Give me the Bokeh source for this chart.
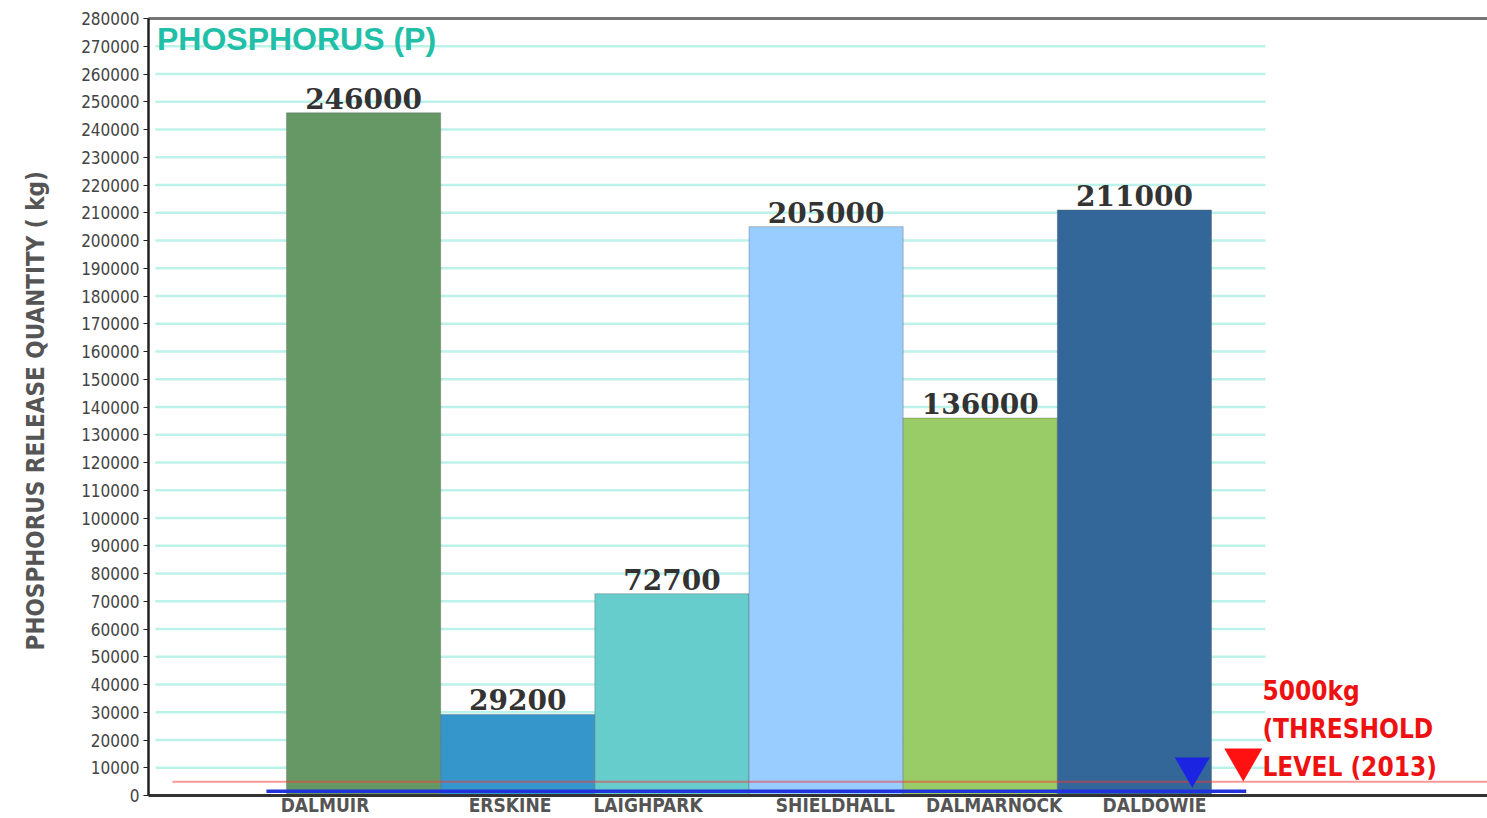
from bokeh.plotting import figure
from bokeh.models import FixedTicker, LinearAxis, Range1d, ColumnDataSource, NumeralTickFormatter
from bokeh.core.properties import value
from bokeh.embed import file_html
from bokeh.resources import INLINE

categories = ["DALMUIR", "ERSKINE", "LAIGHPARK", "SHIELDHALL", "DALMARNOCK", "DALDOWIE"]
releases = [246000, 29200, 72700, 205000, 136000, 211000]
bar_colors = ["#659865", "#3596cb", "#66cccc", "#99ccff", "#99cc66", "#336699"]
# horizontal shift of each category label relative to its bar centre (bar widths)
label_shift = [-0.25, -0.05, -0.155, 0.06, 0.09, 0.13]
y_ticks = list(range(0, 280001, 10000))
grid_values = list(range(10000, 270001, 10000))
threshold = 5000
threshold_lines = ["5000kg", "(THRESHOLD", "LEVEL (2013)"]

NARROW = "'DejaVu Sans Condensed', 'Liberation Sans Narrow', 'Arial Narrow', sans-serif"

xs = list(range(len(categories)))
label_x = [x + s for x, s in zip(xs, label_shift)]

p = figure(width=1487, height=818, output_backend="svg", toolbar_location=None,
           x_range=Range1d(-1.395, 7.29), y_range=Range1d(0, 280000),
           min_border_left=148, min_border_top=18, min_border_right=0, min_border_bottom=10)
p.outline_line_color = None
p.background_fill_color = "white"
p.xgrid.visible = False
p.ygrid.visible = False

# grid lines (partial width)
p.segment(x0=[-1.35] * len(grid_values), x1=[5.85] * len(grid_values),
          y0=grid_values, y1=grid_values, line_color="#bdf2ea", line_width=2.5)

src = ColumnDataSource(dict(x=xs, top=releases, color=bar_colors,
                            label=[str(v) for v in releases]))
p.vbar(x="x", top="top", bottom=0, width=1.0, fill_color="color",
       line_color="#555555", line_alpha=0.35, line_width=1, source=src)

p.text(x="x", y="top", text="label", source=src, text_align="center",
       text_baseline="bottom", y_offset=-4, text_font=value("DejaVu Serif"),
       text_font_style="bold", text_font_size="28px", text_color="#333333")

# threshold line and baseline
p.segment(x0=[-1.24], x1=[7.29], y0=[threshold], y1=[threshold],
          line_color="#ff3333", line_alpha=0.5, line_width=2)
p.segment(x0=[-0.63], x1=[5.725], y0=[1500], y1=[1500],
          line_color="#2233dd", line_width=3.5)

p.scatter(x=[5.375], y=[10090], marker="inverted_triangle", size=35,
          fill_color="#1b24e0", line_color=None)
p.scatter(x=[5.706], y=[12970], marker="inverted_triangle", size=38,
          fill_color="#ff1111", line_color=None)

p.text(x=[5.83] * 3, y=[37800, 23800, 10100], text=threshold_lines,
       text_baseline="middle", text_align="left",
       text_font=value(NARROW), text_font_style="bold",
       text_font_size="26px", text_color="#ee1111")

p.text(x=[-1.34], y=[272700], text=["PHOSPHORUS (P)"], text_baseline="middle",
       text_align="left", text_font=value("Liberation Sans"), text_font_style="bold",
       text_font_size="32px", text_color="#22bfa8")

# axes
p.yaxis.ticker = FixedTicker(ticks=y_ticks)
p.yaxis.formatter = NumeralTickFormatter(format="0")
p.yaxis.axis_label = "PHOSPHORUS  RELEASE QUANTITY ( kg)"
p.yaxis.axis_label_text_font = NARROW
p.yaxis.axis_label_text_font_style = "bold"
p.yaxis.axis_label_text_font_size = "24px"
p.yaxis.axis_label_text_color = "#555555"
p.yaxis.axis_label_standoff = 28
p.yaxis.major_label_text_font = NARROW
p.yaxis.major_label_text_font_size = "17px"
p.yaxis.major_label_text_color = "#444444"
p.yaxis.major_tick_out = 5
p.yaxis.major_tick_in = 0
p.yaxis.minor_tick_out = 0
p.yaxis.minor_tick_in = 0
p.yaxis.axis_line_width = 2.5
p.yaxis.axis_line_color = "#222222"
p.yaxis.major_tick_line_color = "#222222"
p.yaxis.major_label_standoff = 4

p.xaxis.ticker = FixedTicker(ticks=label_x)
p.xaxis.major_label_overrides = {lx: c for lx, c in zip(label_x, categories)}
p.xaxis.major_label_text_font = NARROW
p.xaxis.major_label_text_font_style = "bold"
p.xaxis.major_label_text_font_size = "19px"
p.xaxis.major_label_text_color = "#555555"
p.xaxis.major_tick_out = 0
p.xaxis.major_tick_in = 0
p.xaxis.minor_tick_out = 0
p.xaxis.minor_tick_in = 0
p.xaxis.axis_line_width = 3
p.xaxis.axis_line_color = "#333333"
p.xaxis.major_label_standoff = -2

top_axis = LinearAxis(ticker=FixedTicker(ticks=[]), axis_line_color="#777777",
                      axis_line_width=3, major_label_text_font_size="0px",
                      major_tick_out=0, minor_tick_out=0)
p.add_layout(top_axis, "above")

open("out.html", "w").write(file_html(p, INLINE))
